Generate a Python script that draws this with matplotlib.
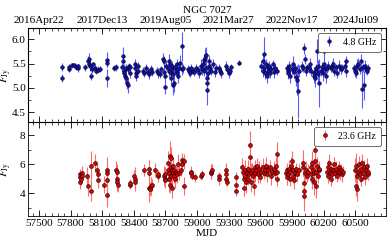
import datetime
import matplotlib
matplotlib.use('Agg')
import matplotlib.pyplot as plt
from matplotlib.ticker import MultipleLocator, FuncFormatter

# 4.8 GHz light curve (MJD, flux in Jy, error)
mjd_c = [57719, 57722, 57781, 57784, 57816, 57835, 57850, 57872, 57875, 57939,
         57965, 57970, 57975, 57985, 57990, 58000, 58010, 58033, 58045, 58060,
         58080, 58146, 58148, 58150, 58210, 58235, 58285, 58295, 58300, 58305,
         58310, 58318, 58322, 58330, 58335, 58340, 58345, 58350, 58360, 58365,
         58410, 58415, 58420, 58425, 58435, 58440, 58486, 58500, 58515, 58530,
         58545, 58560, 58575, 58618, 58630, 58645, 58660, 58678, 58685, 58690,
         58695, 58700, 58708, 58725, 58730, 58735, 58742, 58748, 58752, 58760,
         58765, 58770, 58775, 58780, 58790, 58795, 58805, 58812, 58820, 58830,
         58840, 58855, 58860, 58865, 58910, 58920, 58935, 58945, 58960, 58975,
         58990, 59005, 59020, 59035, 59045, 59055, 59062, 59068, 59075, 59080,
         59087, 59090, 59092, 59095, 59100, 59108, 59115, 59125, 59135, 59150,
         59165, 59180, 59205, 59215, 59222, 59275, 59285, 59300, 59315, 59322,
         59401, 59610, 59620, 59625, 59630, 59638, 59645, 59650, 59660, 59668,
         59675, 59685, 59695, 59705, 59715, 59725, 59740, 59755, 59850, 59858,
         59865, 59875, 59885, 59895, 59905, 59915, 59925, 59935, 59945, 59955,
         59965, 59995, 60005, 60015, 60020, 60030, 60045, 60060, 60075, 60080,
         60108, 60112, 60118, 60125, 60130, 60138, 60145, 60150, 60160, 60170,
         60180, 60192, 60200, 60205, 60212, 60220, 60230, 60245, 60270, 60280,
         60290, 60300, 60315, 60330, 60345, 60360, 60372, 60405, 60410, 60415,
         60488, 60500, 60510, 60520, 60530, 60540, 60550, 60560, 60570, 60580,
         60590, 60605, 60615, 60625]
flux_c = [5.43, 5.21, 5.38, 5.42, 5.46, 5.47, 5.42, 5.40, 5.44, 5.42,
          5.55, 5.60, 5.50, 5.45, 5.24, 5.38, 5.48, 5.40, 5.35, 5.37,
          5.38, 5.58, 5.52, 5.20, 5.40, 5.42, 5.42, 5.65, 5.55, 5.35,
          5.30, 5.25, 5.40, 5.20, 5.10, 5.05, 5.38, 5.44, 5.30, 5.42,
          5.50, 5.40, 5.30, 5.25, 5.45, 5.35, 5.35, 5.30, 5.40, 5.32,
          5.28, 5.38, 5.33, 5.35, 5.30, 5.28, 5.38, 5.60, 5.55, 5.32,
          5.02, 5.25, 5.45, 5.40, 5.35, 5.55, 5.50, 5.20, 5.30, 5.38,
          5.45, 5.05, 5.28, 5.10, 5.42, 5.35, 5.48, 5.30, 5.25, 5.40,
          5.52, 5.38, 5.85, 5.40, 5.38, 5.35, 5.30, 5.40, 5.35, 5.32,
          5.40, 5.36, 5.30, 5.45, 5.38, 5.50, 5.58, 5.35, 5.62, 5.40,
          5.68, 5.20, 5.10, 4.95, 5.30, 5.45, 5.55, 5.40, 5.35, 5.50,
          5.32, 5.40, 5.40, 5.35, 5.30, 5.45, 5.38, 5.30, 5.35, 5.42,
          5.52, 5.45, 5.55, 5.35, 5.70, 5.40, 5.30, 5.50, 5.25, 5.42,
          5.35, 5.45, 5.30, 5.38, 5.48, 5.32, 5.40, 5.35, 5.40, 5.35,
          5.30, 5.45, 5.25, 5.38, 5.50, 5.32, 5.40, 5.22, 5.16, 4.93,
          5.35, 5.45, 5.40, 5.81, 5.60, 5.35, 5.42, 5.40, 5.50, 5.35,
          5.30, 5.25, 5.20, 5.35, 5.40, 5.76, 5.45, 5.28, 5.10, 5.35,
          5.42, 5.30, 5.48, 5.76, 5.38, 5.25, 5.40, 5.45, 5.40, 5.45,
          5.50, 5.35, 5.42, 5.30, 5.45, 5.38, 5.40, 5.45, 5.35, 5.55,
          5.40, 5.35, 5.30, 5.45, 5.50, 5.38, 5.55, 4.98, 5.42, 5.05,
          5.45, 5.38, 5.35, 5.40]
err_c = [0.08, 0.08, 0.06, 0.08, 0.05, 0.05, 0.06, 0.08, 0.05, 0.08,
         0.10, 0.12, 0.08, 0.10, 0.08, 0.07, 0.06, 0.07, 0.06, 0.07,
         0.06, 0.15, 0.10, 0.18, 0.06, 0.08, 0.10, 0.18, 0.12, 0.15,
         0.10, 0.12, 0.08, 0.10, 0.12, 0.15, 0.08, 0.08, 0.10, 0.07,
         0.10, 0.08, 0.10, 0.10, 0.08, 0.07, 0.08, 0.07, 0.10, 0.08,
         0.10, 0.08, 0.09, 0.08, 0.10, 0.08, 0.07, 0.12, 0.10, 0.12,
         0.15, 0.10, 0.08, 0.10, 0.12, 0.15, 0.10, 0.15, 0.10, 0.08,
         0.10, 0.20, 0.12, 0.18, 0.10, 0.08, 0.12, 0.10, 0.15, 0.10,
         0.15, 0.12, 0.30, 0.10, 0.08, 0.10, 0.08, 0.10, 0.07, 0.08,
         0.10, 0.08, 0.10, 0.15, 0.12, 0.10, 0.12, 0.10, 0.20, 0.15,
         0.15, 0.15, 0.20, 0.30, 0.12, 0.10, 0.12, 0.10, 0.08, 0.10,
         0.10, 0.08, 0.10, 0.08, 0.10, 0.10, 0.08, 0.10, 0.08, 0.07,
         0.05, 0.10, 0.15, 0.12, 0.35, 0.10, 0.12, 0.10, 0.15, 0.10,
         0.08, 0.10, 0.10, 0.08, 0.10, 0.12, 0.10, 0.08, 0.08, 0.10,
         0.12, 0.10, 0.15, 0.10, 0.15, 0.12, 0.10, 0.18, 0.30, 0.55,
         0.12, 0.10, 0.08, 0.12, 0.10, 0.10, 0.08, 0.10, 0.12, 0.10,
         0.12, 0.15, 0.18, 0.12, 0.10, 0.25, 0.12, 0.15, 0.50, 0.10,
         0.12, 0.15, 0.10, 0.20, 0.12, 0.15, 0.10, 0.10, 0.08, 0.10,
         0.12, 0.10, 0.08, 0.10, 0.12, 0.10, 0.08, 0.10, 0.12, 0.10,
         0.10, 0.12, 0.10, 0.15, 0.12, 0.10, 0.15, 0.40, 0.10, 0.30,
         0.12, 0.10, 0.08, 0.10]

# 23.6 GHz light curve
mjd_k = [57885, 57888, 57892, 57895, 57905, 57908, 57960, 57965, 57990, 57995,
         58033, 58055, 58058, 58062, 58118, 58144, 58146, 58148, 58150, 58235,
         58238, 58240, 58242, 58245, 58360, 58365, 58405, 58410, 58413, 58495,
         58540, 58545, 58548, 58550, 58565, 58570, 58600, 58628, 58632, 58690,
         58693, 58696, 58700, 58722, 58725, 58730, 58735, 58740, 58745, 58748,
         58752, 58756, 58760, 58765, 58770, 58775, 58780, 58785, 58790, 58800,
         58810, 58820, 58830, 58845, 58854, 58860, 58873, 58876, 58940, 58945,
         58950, 58976, 59040, 59045, 59130, 59134, 59138, 59208, 59212, 59272,
         59275, 59278, 59282, 59365, 59369, 59372, 59430, 59435, 59440, 59445,
         59450, 59458, 59465, 59470, 59478, 59485, 59492, 59500, 59502, 59508,
         59515, 59522, 59530, 59538, 59545, 59552, 59560, 59570, 59580, 59590,
         59600, 59610, 59620, 59630, 59640, 59655, 59665, 59675, 59690, 59700,
         59710, 59725, 59735, 59745, 59753, 59756, 59760, 59845, 59850, 59855,
         59862, 59870, 59878, 59885, 59892, 59900, 59905, 59912, 59920, 59930,
         59940, 59950, 59962, 60000, 60005, 60010, 60014, 60018, 60022, 60030,
         60040, 60055, 60077, 60082, 60088, 60094, 60100, 60106, 60112, 60118,
         60120, 60125, 60130, 60138, 60145, 60152, 60160, 60235, 60240, 60245,
         60252, 60258, 60265, 60272, 60280, 60290, 60298, 60305, 60315, 60325,
         60335, 60345, 60355, 60365, 60375, 60385, 60500, 60505, 60510, 60515,
         60520, 60528, 60535, 60542, 60550, 60558, 60565, 60572, 60580, 60590,
         60600, 60610, 60618, 60625]
flux_k = [5.1, 4.8, 5.3, 5.0, 5.4, 5.2, 5.2, 4.5, 5.9, 4.2,
          6.1, 5.6, 5.3, 4.9, 4.6, 5.6, 5.4, 4.9, 3.9, 5.6,
          5.5, 5.0, 4.8, 4.6, 4.6, 4.7, 5.2, 5.0, 4.8, 5.6,
          5.7, 5.4, 4.4, 4.3, 4.5, 4.6, 5.6, 5.2, 5.3, 5.2,
          5.0, 4.9, 5.3, 6.1, 5.6, 5.4, 5.0, 4.6, 6.6, 6.4,
          5.8, 5.2, 4.4, 5.6, 5.4, 5.9, 5.2, 5.6, 5.0, 5.5,
          5.3, 6.0, 5.4, 5.6, 6.3, 6.0, 4.5, 6.2, 5.5, 5.4,
          5.2, 5.1, 5.2, 5.3, 5.4, 5.5, 5.6, 5.0, 5.2, 5.6,
          5.3, 5.0, 4.8, 5.1, 4.6, 4.2, 5.8, 5.5, 5.0, 4.4,
          5.2, 5.6, 4.8, 5.4, 5.0, 5.7, 5.3, 6.5, 7.3, 5.5,
          4.8, 5.6, 5.2, 4.5, 5.8, 5.4, 5.6, 5.9, 5.3, 5.7,
          5.1, 5.5, 5.8, 5.4, 5.6, 5.9, 5.3, 5.6, 5.8, 5.2,
          5.5, 5.7, 5.4, 5.9, 6.7, 5.0, 5.5, 5.4, 5.1, 5.6,
          5.3, 5.7, 5.0, 5.5, 5.9, 6.2, 5.2, 5.6, 4.9, 5.4,
          5.7, 5.3, 5.6, 5.8, 6.1, 4.7, 3.8, 4.2, 5.4, 5.6,
          5.2, 5.5, 5.8, 5.3, 5.0, 6.1, 5.6, 4.8, 5.4, 6.2,
          7.0, 4.5, 5.5, 5.9, 5.2, 5.6, 5.7, 5.5, 5.8, 5.2,
          6.1, 5.4, 5.0, 5.7, 5.3, 5.6, 6.0, 5.4, 5.7, 5.2,
          5.5, 5.8, 5.4, 5.6, 5.3, 5.5, 5.6, 5.9, 4.5, 5.2,
          4.3, 5.5, 6.0, 5.3, 5.7, 5.0, 6.1, 5.4, 5.8, 5.1,
          5.6, 5.9, 5.3, 5.5]
err_k = [0.4, 0.5, 0.4, 0.4, 0.5, 0.4, 0.6, 0.7, 1.0, 0.7,
         0.6, 0.5, 0.4, 0.5, 0.6, 0.9, 0.6, 0.7, 0.8, 0.6,
         0.5, 0.5, 0.6, 0.5, 0.3, 0.3, 0.4, 0.8, 0.5, 0.4,
         0.6, 0.5, 1.0, 0.5, 0.6, 0.4, 0.5, 0.4, 0.3, 0.7,
         0.6, 0.4, 0.5, 0.8, 0.6, 0.7, 0.9, 0.6, 1.0, 0.8,
         0.6, 0.5, 0.7, 0.5, 0.4, 0.6, 0.5, 0.4, 0.6, 0.5,
         0.6, 0.7, 0.5, 0.4, 0.5, 0.6, 0.6, 0.5, 0.4, 0.3,
         0.3, 0.3, 0.3, 0.3, 0.4, 0.5, 0.4, 0.4, 0.3, 0.5,
         0.4, 0.5, 0.3, 0.4, 0.5, 0.4, 0.6, 0.5, 0.7, 0.6,
         0.5, 0.7, 0.8, 0.5, 0.4, 0.6, 0.5, 0.8, 1.0, 0.6,
         0.7, 0.5, 0.4, 0.6, 0.5, 0.6, 0.4, 0.5, 0.6, 0.5,
         0.4, 0.5, 0.6, 0.4, 0.5, 0.6, 0.5, 0.4, 0.5, 0.6,
         0.4, 0.5, 0.4, 0.6, 0.8, 0.5, 0.4, 0.4, 0.5, 0.5,
         0.4, 0.6, 0.5, 0.4, 0.6, 0.7, 0.5, 0.4, 0.6, 0.5,
         0.4, 0.5, 0.4, 0.6, 0.9, 0.7, 1.0, 0.8, 0.5, 0.6,
         0.4, 0.5, 0.5, 0.6, 0.7, 0.8, 0.5, 0.9, 0.6, 0.7,
         1.0, 0.8, 0.5, 0.6, 0.5, 0.4, 0.5, 0.4, 0.5, 0.5,
         0.6, 0.4, 0.5, 0.4, 0.5, 0.4, 0.5, 0.4, 0.5, 0.4,
         0.5, 0.4, 0.5, 0.4, 0.5, 0.4, 0.8, 0.9, 0.7, 0.6,
         0.8, 0.5, 0.6, 0.5, 0.6, 0.5, 0.6, 0.4, 0.5, 0.5,
         0.4, 0.5, 0.4, 0.5]

mjd0 = datetime.datetime(1858, 11, 17)

def mjd2date(x, pos):
    return (mjd0 + datetime.timedelta(days=x)).strftime('%Y%b%d')

plt.rcParams['font.family'] = 'Liberation Serif'
plt.rcParams['mathtext.fontset'] = 'stix'
plt.rcParams['font.size'] = 8

fig, (ax1, ax2) = plt.subplots(2, 1, sharex=True, figsize=(3.89, 2.43), dpi=100)
fig.subplots_adjust(left=0.073, right=0.992, top=0.885, bottom=0.111, hspace=0)

ax1.errorbar(mjd_c, flux_c, yerr=err_c, fmt='o', ms=2.6, mfc='#1010c0', mec='k', mew=0.4,
             ecolor='#5a5aff', elinewidth=0.8, capsize=0, label='4.8 GHz')
ax2.errorbar(mjd_k, flux_k, yerr=err_k, fmt='o', ms=2.8, mfc='#e00000', mec='k', mew=0.4,
             ecolor='#ff6a6a', elinewidth=0.8, capsize=0, label='23.6 GHz')

ax1.set_ylim(4.3, 6.23)
ax2.set_ylim(2.45, 8.9)
ax2.set_xlim(57400, 60790)

ax1.yaxis.set_major_locator(MultipleLocator(0.5))
ax1.yaxis.set_minor_locator(MultipleLocator(0.25))
ax2.yaxis.set_major_locator(MultipleLocator(2))
ax2.yaxis.set_minor_locator(MultipleLocator(1))
ax2.xaxis.set_major_locator(MultipleLocator(300, offset=200))
ax2.xaxis.set_minor_locator(MultipleLocator(60, offset=20))

for ax in (ax1, ax2):
    ax.tick_params(which='both', direction='in', top=True, right=True, labelsize=8, pad=2)
    ax.tick_params(which='major', length=4, width=0.6)
    ax.tick_params(which='minor', length=2, width=0.5)
    ax.set_ylabel(r'$F_{\rm Jy}$')
    ax.yaxis.set_label_coords(-0.04, 0.5)
    for s in ax.spines.values():
        s.set_linewidth(0.6)
    leg = ax.legend(loc='upper right', fontsize=7, handlelength=1.2, borderpad=0.5,
                    framealpha=1, fancybox=True)
    leg.get_frame().set_edgecolor('#555555')
    leg.get_frame().set_linewidth(0.6)

ax1.tick_params(which='both', top=False)
ax2.set_xlabel('MJD', labelpad=1)

# calendar dates on top
axt = ax1.twiny()
axt.set_xlim(ax2.get_xlim())
axt.xaxis.set_major_locator(MultipleLocator(600, offset=500))
axt.xaxis.set_minor_locator(MultipleLocator(60, offset=20))
axt.xaxis.set_major_formatter(FuncFormatter(mjd2date))
axt.tick_params(which='both', direction='in', labelsize=8, pad=2)
axt.tick_params(which='major', length=4, width=0.6)
axt.tick_params(which='minor', length=2, width=0.5)
axt.set_title('NGC 7027', fontsize=8, pad=2)

fig.savefig('out.png', dpi=100)
